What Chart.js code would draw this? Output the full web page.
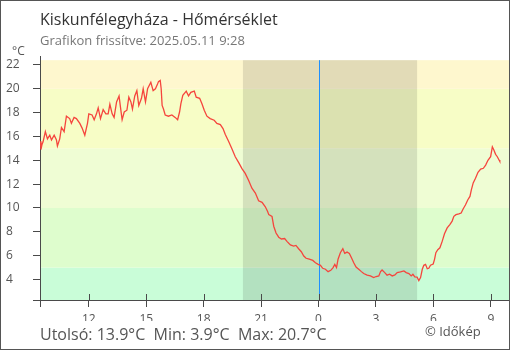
<!DOCTYPE html>
<html>
<head>
<meta charset="utf-8">
<script src="https://cdn.jsdelivr.net/npm/chart.js@4"></script>
<style>
  html, body { margin: 0; padding: 0; background: #fff; }
  canvas { display: block; }
</style>
</head>
<body>
<canvas id="tempChart" width="510" height="350"></canvas>
<script>
"use strict";

// hours counted from midnight of the first day (24 = midnight, 33.47 = 9:28 next day)
var hours = [
  9.47, 9.50, 9.55, 9.61, 9.73, 9.84, 9.96, 10.05, 10.19, 10.31,
  10.36, 10.48, 10.57, 10.71, 10.83, 11.00, 11.09, 11.23, 11.35, 11.53,
  11.65, 11.79, 11.93, 12.00, 12.17, 12.28, 12.40, 12.49, 12.61, 12.75,
  12.89, 13.01, 13.10, 13.22, 13.32, 13.45, 13.58, 13.65, 13.74, 13.85,
  13.99, 14.09, 14.20, 14.28, 14.40, 14.51, 14.61, 14.75, 14.84, 14.96,
  15.07, 15.24, 15.36, 15.48, 15.59, 15.64, 15.73, 15.78, 15.83, 15.90,
  15.99, 16.16, 16.34, 16.51, 16.64, 16.74, 16.81, 16.91, 17.09, 17.21,
  17.33, 17.51, 17.61, 17.79, 17.91, 18.03, 18.17, 18.34, 18.55, 18.69,
  18.87, 19.01, 19.13, 19.30, 19.48, 19.65, 19.83, 20.00, 20.17, 20.35,
  20.52, 20.70, 20.87, 21.05, 21.22, 21.34, 21.40, 21.57, 21.66, 21.78,
  21.92, 22.06, 22.23, 22.35, 22.53, 22.70, 22.82, 22.96, 23.10, 23.23,
  23.35, 23.52, 23.70, 23.84, 23.98, 24.10, 24.22, 24.36, 24.50, 24.64,
  24.76, 24.85, 24.94, 25.02, 25.14, 25.27, 25.37, 25.49, 25.61, 25.72,
  25.84, 25.96, 26.10, 26.24, 26.36, 26.54, 26.71, 26.88, 27.01, 27.15,
  27.24, 27.32, 27.46, 27.58, 27.71, 27.85, 27.99, 28.11, 28.28, 28.46,
  28.58, 28.72, 28.84, 28.93, 29.03, 29.15, 29.24, 29.33, 29.42, 29.50,
  29.59, 29.68, 29.76, 29.85, 29.99, 30.06, 30.13, 30.23, 30.34, 30.46,
  30.58, 30.72, 30.86, 30.98, 31.07, 31.18, 31.33, 31.45, 31.56, 31.68,
  31.80, 31.91, 31.98, 32.08, 32.20, 32.33, 32.47, 32.61, 32.73, 32.85,
  32.99, 33.08, 33.16, 33.25, 33.34, 33.43, 33.47
];

var temps = [
  15.6, 14.9, 15.3, 15.55, 16.4, 15.8, 16.1, 15.7, 16.1, 15.7,
  15.2, 15.8, 16.75, 16.4, 17.7, 17.5, 17.1, 17.6, 17.5, 17.1,
  16.7, 16.1, 17.1, 17.9, 17.8, 17.4, 17.9, 18.4, 17.5, 18.25,
  17.9, 17.9, 18.7, 17.9, 17.6, 18.9, 19.4, 18.5, 17.4, 18.05,
  18.2, 19.3, 18.9, 18.3, 19.4, 19.85, 18.6, 19.2, 20.0, 18.9,
  20.0, 20.55, 19.85, 20.0, 20.4, 20.6, 20.7, 20.0, 18.6, 18.3,
  17.8, 17.7, 17.8, 17.6, 17.4, 18.05, 18.75, 19.45, 19.8, 19.4,
  19.7, 19.8, 19.3, 19.2, 18.75, 18.2, 17.7, 17.5, 17.36, 17.1,
  17.0, 16.66, 16.16, 15.6, 14.94, 14.3, 13.8, 13.3, 12.9, 12.3,
  11.66, 11.25, 10.6, 10.47, 10.1, 9.7, 9.44, 9.3, 8.47, 7.9,
  7.55, 7.4, 7.44, 7.2, 6.9, 6.8, 6.86, 6.58, 6.33, 5.97,
  5.78, 5.7, 5.6, 5.4, 5.27, 5.19, 4.94, 4.86, 4.66, 4.77,
  5.0, 5.27, 5.0, 5.7, 6.25, 6.58, 6.19, 6.3, 6.19, 5.83,
  5.41, 5.05, 4.86, 4.66, 4.5, 4.36, 4.3, 4.16, 4.25, 4.3,
  4.66, 4.8, 4.58, 4.36, 4.44, 4.3, 4.38, 4.58, 4.63, 4.72,
  4.58, 4.5, 4.3, 4.44, 4.22, 4.2, 3.9, 4.16, 4.86, 5.19,
  5.27, 4.9, 4.94, 5.2, 5.3, 5.69, 6.25, 6.5, 6.66, 7.2,
  7.83, 8.33, 8.6, 8.9, 9.3, 9.44, 9.5, 9.58, 9.94, 10.27,
  10.69, 10.97, 11.5, 12.1, 12.5, 13.0, 13.27, 13.33, 13.6, 14.0,
  14.3, 15.13, 14.86, 14.5, 14.3, 14.02, 13.9
];

var hourTicks = [12, 15, 18, 21, 24, 27, 30, 33];
var tempTicks = [4, 6, 8, 10, 12, 14, 16, 18, 20, 22];

// upper limit of each coloured band, from the bottom up
var bandTops = [5, 10, 15, 20, 22.4];
var bandColors = ["#C9FDD8", "#DEFDCD", "#EFFDD4", "#F7FDC6", "#FEF7CE"];

var sunset = 20.05;
var sunrise = 29.15;
var midnight = 24;

var title = "Kiskunfélegyháza - Hőmérséklet";
var subtitle = "Grafikon frissítve: 2025.05.11 9:28";

var fontName = "'Open Sans', 'Noto Sans', sans-serif";
var axisColor = "#4a4a4a";

var points = hours.map(function (h, i) {
  return { x: h, y: temps[i] };
});

var fmt = function (v) {
  return v.toFixed(1) + "°C";
};

var decorPlugin = {
  id: "decor",
  beforeDraw: function (chart) {
    var ctx = chart.ctx;
    var area = chart.chartArea;
    var xs = chart.scales.x;
    var ys = chart.scales.y;
    ctx.save();
    ctx.fillStyle = "#fff";
    ctx.fillRect(0, 0, chart.width, chart.height);

    for (var i = 0; i < bandTops.length; i++) {
      var top = ys.getPixelForValue(bandTops[i]);
      var bottom = i == 0 ? area.bottom : ys.getPixelForValue(bandTops[i - 1]);
      ctx.fillStyle = bandColors[i];
      ctx.fillRect(area.left, top, area.right - area.left, bottom - top);
    }

    var bandTop = ys.getPixelForValue(bandTops[bandTops.length - 1]);
    var n1 = xs.getPixelForValue(sunset);
    var n2 = xs.getPixelForValue(sunrise);
    ctx.fillStyle = "rgba(0,0,0,0.11)";
    ctx.fillRect(n1, bandTop, n2 - n1, area.bottom - bandTop);

    // midnight marker, a crisp one pixel column
    var m = Math.round(xs.getPixelForValue(midnight));
    ctx.fillStyle = "#1E90FF";
    ctx.fillRect(m, bandTop, 1, area.bottom - bandTop);
    ctx.restore();
  },
  afterDraw: function (chart) {
    var ctx = chart.ctx;
    var area = chart.chartArea;
    var xs = chart.scales.x;
    ctx.save();

    // short marks above the x axis and the axis overhangs
    ctx.strokeStyle = axisColor;
    ctx.lineWidth = 1;
    ctx.beginPath();
    xs.ticks.forEach(function (t) {
      var px = Math.round(xs.getPixelForValue(t.value)) + 0.5;
      ctx.moveTo(px, area.bottom - 6);
      ctx.lineTo(px, area.bottom);
    });
    var lx = Math.round(area.left) + 0.5;
    var by = Math.round(area.bottom) + 0.5;
    ctx.moveTo(lx, area.bottom);
    ctx.lineTo(lx, area.bottom + 7);
    ctx.moveTo(area.left - 7, by);
    ctx.lineTo(area.left, by);
    ctx.stroke();

    ctx.textBaseline = "alphabetic";
    ctx.textAlign = "left";
    ctx.fillStyle = "#333";
    ctx.font = "16px " + fontName;
    ctx.fillText(title, 40, 25);

    ctx.fillStyle = "#777";
    ctx.font = "13px " + fontName;
    ctx.fillText(subtitle, 40, 45);

    ctx.fillStyle = "#555";
    ctx.font = "12px " + fontName;
    ctx.fillText("°C", 12, 55);

    var last = temps[temps.length - 1];
    var min = Math.min.apply(null, temps);
    var max = Math.max.apply(null, temps);
    ctx.font = "16px " + fontName;
    ctx.fillText("Utolsó: " + fmt(last) + "  Min: " + fmt(min) + "  Max: " + fmt(max), 40, 340);

    ctx.font = "13px " + fontName;
    ctx.fillText("© Időkép", 425, 336);

    ctx.strokeStyle = "#555";
    ctx.strokeRect(0.5, 0.5, chart.width - 1, chart.height - 1);
    ctx.restore();
  }
};

new Chart(document.getElementById("tempChart"), {
  type: "line",
  data: {
    datasets: [{
      data: points,
      borderColor: "#F5453D",
      borderWidth: 1.3,
      pointRadius: 0,
      tension: 0,
      fill: false
    }]
  },
  options: {
    responsive: false,
    animation: false,
    devicePixelRatio: 1,
    layout: {
      padding: { left: 6, right: 1, top: 56, bottom: 29 }
    },
    plugins: {
      legend: { display: false },
      tooltip: { enabled: false }
    },
    scales: {
      x: {
        type: "linear",
        min: 9.45,
        max: 33.95,
        afterFit: function (scale) { scale.height = 21; },
        afterBuildTicks: function (scale) {
          scale.ticks = hourTicks.map(function (v) { return { value: v }; });
        },
        ticks: {
          color: "#555",
          padding: 5,
          maxRotation: 0,
          font: { family: fontName, size: 12 },
          callback: function (v) { return String(v % 24); }
        },
        grid: {
          drawOnChartArea: false,
          tickLength: 7,
          color: axisColor
        },
        border: { color: axisColor, width: 1 }
      },
      y: {
        min: 2.28,
        max: 22.75,
        afterFit: function (scale) { scale.width = 34; },
        afterBuildTicks: function (scale) {
          scale.ticks = tempTicks.map(function (v) { return { value: v }; });
        },
        ticks: {
          color: "#555",
          crossAlign: "far",
          font: { family: fontName, size: 12 }
        },
        grid: {
          drawOnChartArea: false,
          tickLength: 7,
          color: axisColor
        },
        border: { color: axisColor, width: 1 }
      }
    }
  },
  plugins: [decorPlugin]
});
</script>
</body>
</html>
